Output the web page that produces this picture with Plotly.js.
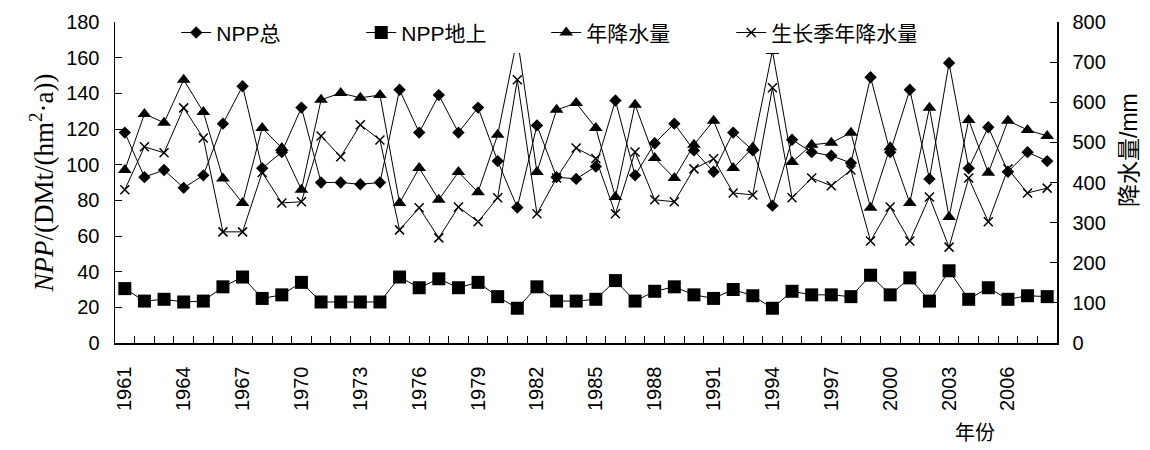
<!DOCTYPE html>
<html><head><meta charset="utf-8">
<script src="https://cdn.plot.ly/plotly-3.0.1.min.js"></script>
<style>html,body{margin:0;padding:0;background:#fff}</style>
</head><body><div id="chart" style="width:1150px;height:450px"></div>
<script>
const years = [1961,1962,1963,1964,1965,1966,1967,1968,1969,1970,
  1971,1972,1973,1974,1975,1976,1977,1978,1979,1980,
  1981,1982,1983,1984,1985,1986,1987,1988,1989,1990,
  1991,1992,1993,1994,1995,1996,1997,1998,1999,2000,
  2001,2002,2003,2004,2005,2006,2007,2008];
const yearLabels = [1961,1964,1967,1970,1973,1976,1979,1982,1985,1988,1991,1994,1997,2000,2003,2006];

const nppTotal = [118,93,97,87,94,123,144,98,107,132,
  90,90,89,90,142,118,139,118,132,102,
  76,122,93,92,99,136,94,112,123,108,
  96,118,108,77,114,107,105,101,149,107,
  142,92,157,98,121,96,107,102];
const nppAbove = [30.5,23.5,24.5,23,23.5,31.5,37,25,27,34,
  23,23,23,23,37,31,36,31,34,26,
  19.5,31.5,23.5,23.5,24.5,35,23.5,29,31.5,27,
  25,30,26.5,19.5,29,27,27,26,38,27,
  36.5,23.5,40.5,24.5,31,24.5,26.5,26];
const annualPrecip = [431,571,549,656,576,410,349,536,486,382,
  606,623,611,618,349,436,357,426,376,519,
  760,426,581,598,536,364,594,461,411,494,
  554,436,487,728,451,494,499,524,337,488,
  349,586,314,556,424,554,531,516];
const growPrecip = [382,489,474,586,511,277,277,425,349,352,
  516,464,544,506,282,337,262,339,302,362,
  656,322,411,486,460,322,476,357,352,434,
  459,374,369,636,362,411,392,431,254,339,
  254,364,239,411,302,434,374,386];

const seriesNames = ['NPP总','NPP地上','年降水量','生长季年降水量'];

const fontSans = 'Liberation Sans, Arial, Noto Sans CJK SC, sans-serif';
const lineStyle = {color:'#000', width:1};
const xRange = [years[0]-0.5, years[years.length-1]+0.5];
const boundaries = years.map(y => y - 0.5).concat([years[years.length-1]+0.5]);

const traces = [
  {x: years, y: nppTotal, name: seriesNames[0], type:'scatter', mode:'lines+markers',
   line: lineStyle, marker:{symbol:'diamond', size:9.5, color:'#000'}, xaxis:'x', yaxis:'y'},
  {x: years, y: nppAbove, name: seriesNames[1], type:'scatter', mode:'lines+markers',
   line: lineStyle, marker:{symbol:'square', size:13, color:'#000'}, xaxis:'x', yaxis:'y'},
  {x: years, y: annualPrecip, name: seriesNames[2], type:'scatter', mode:'lines+markers',
   line: lineStyle, marker:{symbol:'triangle-up', size:12, color:'#000'}, xaxis:'x2', yaxis:'y2'},
  {x: years, y: growPrecip, name: seriesNames[3], type:'scatter', mode:'lines+markers',
   line: lineStyle, marker:{symbol:'x-thin-open', size:9, color:'#000', line:{color:'#000', width:1.5}}, xaxis:'x2', yaxis:'y2'}
];

const layout = {
  width:1150, height:450,
  margin:{l:115, r:93, t:22, b:107},
  paper_bgcolor:'#fff', plot_bgcolor:'#fff',
  font:{family:fontSans, color:'#000', size:20},
  showlegend:true,
  legend:{orientation:'h', x:0.065, xanchor:'left', y:1.03, yanchor:'top',
    bgcolor:'#fff', font:{family:fontSans, size:21, color:'#000'},
    entrywidth:140, entrywidthmode:'pixels', tracegroupgap:0},
  xaxis:{type:'linear', range:xRange, tickvals: yearLabels, ticks:'',
    tickangle:-90, tickfont:{family:fontSans, size:20}, ticklabelstandoff:14,
    showline:true, linecolor:'#000', linewidth:1.5, showgrid:false, zeroline:false},
  xaxis2:{type:'linear', range:xRange, overlaying:'x', side:'bottom', matches:'x',
    tickvals: boundaries, ticks:'inside', ticklen:7, tickcolor:'#000', tickwidth:1,
    showticklabels:false, showline:false, showgrid:false, zeroline:false},
  yaxis:{range:[0,180], dtick:20, tick0:0, ticks:'inside', ticklen:7, tickcolor:'#000',
    showline:true, linecolor:'#000', linewidth:1.5, showgrid:false, zeroline:false,
    tickfont:{family:fontSans, size:20}, ticklabelstandoff:10,
    title:{text:'<i>NPP</i>/(DMt/(hm<sup>2</sup>·a))', font:{family:'Liberation Serif, Times New Roman, serif', size:27}, standoff:4}},
  yaxis2:{range:[0,800], dtick:100, tick0:0, overlaying:'y', side:'right',
    ticks:'inside', ticklen:7, tickcolor:'#000',
    showline:true, linecolor:'#000', linewidth:1.5, showgrid:false, zeroline:false,
    tickfont:{family:fontSans, size:20}, ticklabelstandoff:10},
  annotations:[
    {text:'年份', xref:'paper', yref:'paper', x:0.913, y:-0.275, xanchor:'center', yanchor:'middle',
     showarrow:false, font:{family:'Noto Sans CJK SC, sans-serif', size:20, color:'#000'}},
    {text:'降水量/mm', xref:'paper', yref:'paper', x:1.077, y:0.60, xanchor:'center', yanchor:'middle',
     textangle:-90, showarrow:false, font:{family:fontSans, size:23, color:'#000'}}
  ]
};

Plotly.newPlot('chart', traces, layout, {displayModeBar:false, staticPlot:true});
</script>
</body></html>
